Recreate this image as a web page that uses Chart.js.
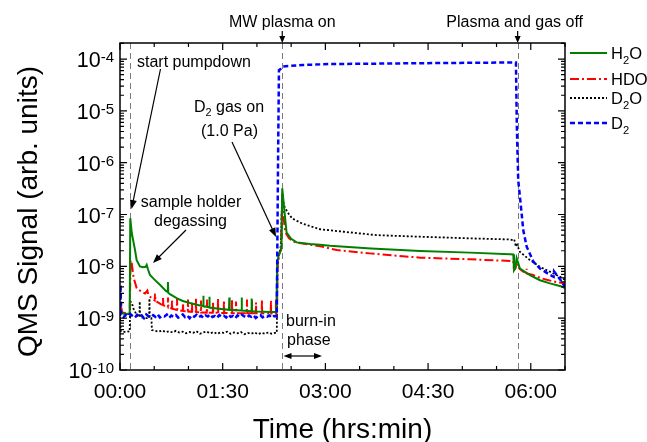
<!DOCTYPE html>
<html><head><meta charset="utf-8">
<script src="https://cdn.jsdelivr.net/npm/chart.js@4/dist/chart.umd.min.js"></script>
<style>html,body{margin:0;padding:0;background:#fff;}canvas{display:block;}</style>
</head><body>
<canvas id="c" width="647" height="442"></canvas>
<script>
// ---------- data (time in minutes, signal in arb. units) ----------
const h2oT = [0,2,4,6,8.5,9,10.3,13.1,14.6,17.5,20,22.5,23.4,24.5,26.3,30,35,40,41.8,42,42.3,43.8,50,55,61.3,70,72.8,73,73.3,78,78.3,78.6,85,95.5,95.8,96.1,106.3,106.6,106.9,115.1,115.4,115.7,120,131.5,137,137.8,139,141.5,142.2,144.6,146,150,154.8,166.5,175.3,184,220,263,306.7,341.8,344.7,345.3,346.5,347.6,350.5,359.3,368,376.8,387,390];
const h2oV = [1.2e-9,1.25e-9,1.2e-9,1.22e-9,1.2e-9,8.5e-8,4.4e-8,2.1e-8,1.32e-8,1.0e-8,9.6e-9,9.8e-9,1.07e-8,8.8e-9,6.8e-9,5.6e-9,4.4e-9,3.4e-9,3.2e-9,5.0e-9,3.1e-9,2.9e-9,2.4e-9,2.15e-9,1.96e-9,1.75e-9,1.72e-9,2.7e-9,1.7e-9,1.62e-9,2.6e-9,1.6e-9,1.53e-9,1.45e-9,2.5e-9,1.45e-9,1.4e-9,2.5e-9,1.4e-9,1.36e-9,2.4e-9,1.36e-9,1.34e-9,1.32e-9,1.32e-9,1.2e-8,1.6e-8,2.2e-8,3.2e-7,9e-8,4.5e-8,3.4e-8,2.9e-8,2.7e-8,2.62e-8,2.5e-8,2.2e-8,1.98e-8,1.84e-8,1.72e-8,1.7e-8,8.5e-9,9.5e-9,1.44e-8,9.1e-9,6.8e-9,5.4e-9,4.7e-9,4.1e-9,3.8e-9];

const hdoT = [0,0.8,1.6,5,8.5,9.3,10.3,12,14.6,19,22,24,24.8,28,30.4,30.7,31,32.2,36,37.5,37.7,37.9,40.9,41.9,42.1,42.3,45.4,45.6,45.8,49.8,50,50.2,55,55.2,55.4,59.4,59.6,59.8,62.9,63.1,63.3,66.4,66.6,66.8,70.8,71,71.2,76,76.2,76.4,81.3,81.5,81.7,85.7,85.9,86.1,90.9,91.1,91.3,98,98.2,98.4,101.5,101.7,101.9,111.1,111.3,111.5,115.5,115.7,115.9,119,119.2,119.4,124.2,124.4,124.6,132.1,132.3,132.5,136.5,136.7,136.9,137.6,138,139,141,142.2,143.5,145,148,151.9,160,175.3,190,219,263,306.7,341.8,344.7,345.3,346.5,347.6,350,353,356,356.3,356.6,362,368,374,382,390];
const hdoV = [1.3e-9,2.1e-9,1.3e-9,1.25e-9,1.25e-9,1.3e-8,1.14e-8,6e-9,3.8e-9,3.2e-9,3.0e-9,3.4e-9,2.8e-9,2.4e-9,2.2e-9,3.0e-9,2.15e-9,2.08e-9,1.85e-9,1.8e-9,2.6e-9,1.78e-9,1.66e-9,1.62e-9,2.5e-9,1.6e-9,1.53e-9,2.3e-9,1.52e-9,1.44e-9,2.4e-9,1.43e-9,1.38e-9,2.2e-9,1.38e-9,1.34e-9,2.3e-9,1.34e-9,1.32e-9,2.1e-9,1.32e-9,1.3e-9,2.4e-9,1.3e-9,1.3e-9,2.2e-9,1.29e-9,1.28e-9,2.3e-9,1.28e-9,1.27e-9,2.1e-9,1.27e-9,1.27e-9,2.4e-9,1.26e-9,1.26e-9,2.2e-9,1.26e-9,1.26e-9,2.3e-9,1.25e-9,1.25e-9,2.1e-9,1.25e-9,1.25e-9,2.3e-9,1.25e-9,1.25e-9,2.2e-9,1.24e-9,1.24e-9,2.0e-9,1.24e-9,1.24e-9,2.3e-9,1.24e-9,1.23e-9,2.2e-9,1.23e-9,1.23e-9,2.4e-9,1.23e-9,1.25e-9,1.0e-8,1.6e-8,2.06e-8,2.6e-7,8e-8,4.5e-8,3.5e-8,3.0e-8,2.75e-8,2.45e-8,2.06e-8,1.78e-8,1.47e-8,1.37e-8,1.27e-8,1.26e-8,8.5e-9,9e-9,1.15e-8,9e-9,8e-9,7.5e-9,9e-9,7.3e-9,6.8e-9,6e-9,5.5e-9,5e-9,4.7e-9];

const d2oT = [0,0.6,3,6,8.5,9,10.3,11.7,14.6,17,17.3,17.6,22,25.5,25.8,26.1,27.5,28,31,34,37,40,43,46,49,52,55,58,61,64,67,70,73,76,79,82,85,88,91,94,97,100,103,106,109,112,115,118,121,124,127,130,133,136,137.4,138,139,141,142.2,143.6,146.5,150.9,159.6,175.3,196,225,263,306.7,341.8,344.7,345.5,347,348,350.5,359.3,368,376.8,385.6,390];
const d2oV = [1.0e-9,5.6e-10,5.4e-10,5.6e-10,5.5e-10,2.1e-9,2.0e-9,1.55e-9,1.15e-9,1.05e-9,2.1e-9,1.05e-9,1.0e-9,1.0e-9,2.4e-9,1.0e-9,1.0e-9,5.9e-10,5.7e-10,5.5e-10,5.8e-10,5.4e-10,5.6e-10,5.3e-10,5.7e-10,5.3e-10,5.5e-10,5.1e-10,5.4e-10,5.2e-10,5.6e-10,5.0e-10,5.3e-10,5.5e-10,5.1e-10,5.4e-10,5.0e-10,5.3e-10,5.2e-10,5.5e-10,5.0e-10,5.3e-10,5.1e-10,5.4e-10,4.9e-10,5.2e-10,5.0e-10,5.3e-10,4.9e-10,5.2e-10,5.0e-10,5.3e-10,5.0e-10,5.2e-10,5.2e-10,8e-9,1.5e-8,2.5e-8,2.6e-7,1.52e-7,1.13e-7,8.4e-8,6.7e-8,5.2e-8,4.65e-8,4.0e-8,3.73e-8,3.47e-8,3.3e-8,3.2e-8,3.3e-8,2.4e-8,2.6e-8,1.9e-8,1.32e-8,9.8e-9,7.9e-9,6.3e-9,5.5e-9];

const d2T = [0,0.5,1,3,5,7,9,11,13,15,17,19,21,23,25,27,29,31,33,35,37,39,41,43,45,47,49,51,53,55,57,59,61,63,65,67,69,71,73,75,77,79,81,83,85,87,89,91,93,95,97,99,101,103,105,107,109,111,113,115,117,119,121,123,125,127,129,131,133,135,137.4,138.5,139.3,141,143,160,184,260,347,347.8,349,350.5,352,353.4,356.4,362.3,368,377,380,380.4,387,390];
const d2V = [1.1e-9,4.4e-9,1.12e-9,1.05e-9,1.15e-9,1.08e-9,1.2e-9,1.1e-9,1.02e-9,1.16e-9,1.07e-9,1.13e-9,1.0e-9,1.18e-9,1.09e-9,1.04e-9,1.14e-9,1.06e-9,1.19e-9,1.03e-9,1.11e-9,1.08e-9,1.17e-9,1.01e-9,1.12e-9,1.06e-9,1.15e-9,1.03e-9,1.1e-9,1.18e-9,1.05e-9,1.12e-9,1.0e-9,1.14e-9,1.07e-9,1.16e-9,1.04e-9,1.11e-9,1.02e-9,1.13e-9,1.08e-9,1.19e-9,1.05e-9,1.1e-9,1.01e-9,1.15e-9,1.07e-9,1.12e-9,1.03e-9,1.17e-9,1.06e-9,1.1e-9,1.0e-9,1.13e-9,1.05e-9,1.16e-9,1.08e-9,1.02e-9,1.12e-9,1.06e-9,1.14e-9,1.01e-9,1.09e-9,1.15e-9,1.04e-9,1.11e-9,1.07e-9,1.13e-9,1.02e-9,1.1e-9,1.08e-9,1e-6,6.1e-5,6.5e-5,7.2e-5,7.7e-5,8.0e-5,8.3e-5,8.6e-5,5e-6,4.6e-7,2.2e-7,1.05e-7,5e-8,2.4e-8,1.23e-8,9.1e-9,6.8e-9,6.3e-9,8e-9,5.1e-9,4e-9];

const seriesNames = ['H2O','HDO','D2O','D2'];
const eventTimes = [8.8, 142.2, 348.5];           // start pumpdown, MW plasma on, plasma & gas off
const xTickValues = [0, 90, 180, 270, 360];
const xTickLabels = ['00:00','01:30','03:00','04:30','06:00'];
const yTickExponents = [-10,-9,-8,-7,-6,-5,-4];

// ---------- helpers ----------
const FONT = '"Liberation Sans", Arial, sans-serif';
const fnt = s => s + 'px ' + FONT;
function pts(T, V){ return T.map((t,i)=>({x:t, y:V[i]})); }
function rich(ctx, parts, x, y, size, align){
  const small = size*0.68;
  let w = 0;
  parts.forEach(p=>{ ctx.font = fnt(p[1]?small:size); w += ctx.measureText(p[0]).width; });
  let cx = align==='center' ? x - w/2 : (align==='right' ? x - w : x);
  ctx.textAlign = 'left'; ctx.textBaseline = 'alphabetic';
  parts.forEach(p=>{
    ctx.font = fnt(p[1]?small:size);
    const dy = p[1]===1 ? size*0.28 : (p[1]===-1 ? -size*0.36 : 0);
    ctx.fillText(p[0], cx, y+dy);
    cx += ctx.measureText(p[0]).width;
  });
}
function arrow(ctx,x1,y1,x2,y2,len,hw){
  len = len||9; hw = hw||3.5;
  const a = Math.atan2(y2-y1,x2-x1), c=Math.cos(a), s=Math.sin(a);
  ctx.beginPath(); ctx.moveTo(x1,y1); ctx.lineTo(x2-c*len*0.7, y2-s*len*0.7); ctx.stroke();
  ctx.beginPath(); ctx.moveTo(x2,y2);
  ctx.lineTo(x2-c*len+s*hw, y2-s*len-c*hw);
  ctx.lineTo(x2-c*len-s*hw, y2-s*len+c*hw);
  ctx.closePath(); ctx.fill();
}

const styles = [
  {color:'#008000', dash:[], width:2},
  {color:'#ff0000', dash:[9,3,2,3], width:2},
  {color:'#000000', dash:[2,2], width:1.8},
  {color:'#0000ff', dash:[5,3], width:2.5}
];
const seriesT = [h2oT, hdoT, d2oT, d2T];
const seriesV = [h2oV, hdoV, d2oV, d2V];
const drawOrder = [1,2,3,0];

const decor = {
  id:'decor',
  beforeDatasetsDraw(chart){
    const {ctx, chartArea:a, scales:{x}} = chart;
    ctx.save();
    ctx.strokeStyle = '#7a7a7a'; ctx.lineWidth = 1; ctx.setLineDash([6,4]);
    eventTimes.forEach(t=>{
      const px = Math.round(x.getPixelForValue(t))+0.5;
      ctx.beginPath(); ctx.moveTo(px,a.top); ctx.lineTo(px,a.bottom); ctx.stroke();
    });
    ctx.restore();
  },
  afterDraw(chart){
    const {ctx, chartArea:a, scales:{x,y}} = chart;
    ctx.save();
    ctx.strokeStyle = '#000'; ctx.fillStyle = '#000'; ctx.setLineDash([]);
    // frame
    ctx.lineWidth = 1.5;
    ctx.strokeRect(a.left, a.top, a.right-a.left, a.bottom-a.top);
    // x ticks (bottom and top, inward)
    ctx.lineWidth = 1.2;
    for (let t = x.min; t <= x.max + 1e-9; t += 30){
      const px = x.getPixelForValue(t);
      const L = (t % 90 === 0) ? 7 : 4;
      ctx.beginPath();
      ctx.moveTo(px, a.bottom); ctx.lineTo(px, a.bottom-L);
      ctx.moveTo(px, a.top); ctx.lineTo(px, a.top+L);
      ctx.stroke();
    }
    // y ticks (left and right, inward)
    yTickExponents.forEach(e=>{
      for (let k=1;k<=9;k++){
        const v = k*Math.pow(10,e);
        if (v > y.max) break;
        const py = y.getPixelForValue(v);
        const L = k===1 ? 7 : 4;
        ctx.beginPath();
        ctx.moveTo(a.left, py); ctx.lineTo(a.left+L, py);
        ctx.moveTo(a.right, py); ctx.lineTo(a.right-L, py);
        ctx.stroke();
      }
    });
    // x tick labels
    ctx.font = fnt(21); ctx.textAlign='center'; ctx.textBaseline='alphabetic';
    xTickValues.forEach((t,i)=> ctx.fillText(xTickLabels[i], x.getPixelForValue(t), 398));
    // y tick labels
    yTickExponents.forEach(e=>{
      const py = y.getPixelForValue(Math.pow(10,e));
      ctx.font = fnt(15);
      const ew = ctx.measureText('-'+Math.abs(e)).width;
      ctx.textAlign = 'left';
      ctx.fillText('-'+Math.abs(e), 114-ew, py+3);
      ctx.font = fnt(21.5); ctx.textAlign = 'right';
      ctx.fillText('10', 114-ew, py+8);
    });
    // axis titles
    ctx.font = fnt(28); ctx.textAlign='center';
    ctx.fillText('Time (hrs:min)', (a.left+a.right)/2, 438);
    ctx.save();
    ctx.translate(37, (a.top+a.bottom)/2 + 5);
    ctx.rotate(-Math.PI/2);
    ctx.fillText('QMS Signal (arb. units)', 0, 0);
    ctx.restore();

    // annotations
    ctx.lineWidth = 1.2;
    const pOn = x.getPixelForValue(eventTimes[1]);
    const pOff = x.getPixelForValue(eventTimes[2]);
    ctx.font = fnt(16); ctx.textAlign='center';
    ctx.fillText('MW plasma on', pOn, 27);
    ctx.fillText('Plasma and gas off', pOff-3, 27);
    arrow(ctx, pOn, 31, pOn, a.top, 7, 3);
    arrow(ctx, pOff, 31, pOff, a.top, 7, 3);

    ctx.textAlign='left';
    ctx.fillText('start pumpdown', 137, 67);
    arrow(ctx, 160.5, 69, 131.5, 209);

    ctx.textAlign='center';
    ctx.fillText('sample holder', 191, 207);
    ctx.fillText('degassing', 190.5, 226);
    arrow(ctx, 186, 230, 153, 263);

    rich(ctx, [['D',0],['2',1],[' gas on',0]], 229, 112, 16, 'center');
    ctx.font = fnt(16); ctx.textAlign='center';
    ctx.fillText('(1.0 Pa)', 229.5, 136);
    arrow(ctx, 232, 142, 276, 237);

    ctx.textAlign='left';
    ctx.fillText('burn-in', 286, 326);
    ctx.fillText('phase', 287, 345);
    arrow(ctx, 302, 356, 283.5, 356, 8, 3);
    arrow(ctx, 302, 356, 322, 356, 8, 3);

    // legend
    const legY = [53, 79, 98, 123];
    const legText = [
      [['H',0],['2',1],['O',0]],
      [['HDO',0]],
      [['D',0],['2',1],['O',0]],
      [['D',0],['2',1]]
    ];
    seriesNames.forEach((n,i)=>{
      const st = styles[i];
      ctx.save();
      ctx.strokeStyle = st.color; ctx.lineWidth = st.width; ctx.setLineDash(st.dash);
      ctx.beginPath(); ctx.moveTo(570, legY[i]); ctx.lineTo(607, legY[i]); ctx.stroke();
      ctx.restore();
      ctx.fillStyle = '#000';
      rich(ctx, legText[i], 611, legY[i]+6, 16.5, 'left');
    });
    ctx.restore();
  }
};

new Chart(document.getElementById('c'), {
  type:'line',
  data:{
    datasets: seriesNames.map((n,i)=>({
      label:n,
      data: pts(seriesT[i], seriesV[i]),
      borderColor: styles[i].color,
      borderDash: styles[i].dash,
      borderWidth: styles[i].width,
      pointRadius:0,
      fill:false,
      tension:0,
      order: drawOrder[i]
    }))
  },
  options:{
    responsive:false,
    devicePixelRatio:1,
    animation:false,
    parsing:true,
    layout:{padding:{left:120, right:82, top:43, bottom:72}},
    plugins:{legend:{display:false}, tooltip:{enabled:false}},
    scales:{
      x:{type:'linear', min:0, max:390, display:false},
      y:{type:'logarithmic', min:1e-10, max:2.04e-4, display:false}
    }
  },
  plugins:[decor]
});
</script>
</body></html>
